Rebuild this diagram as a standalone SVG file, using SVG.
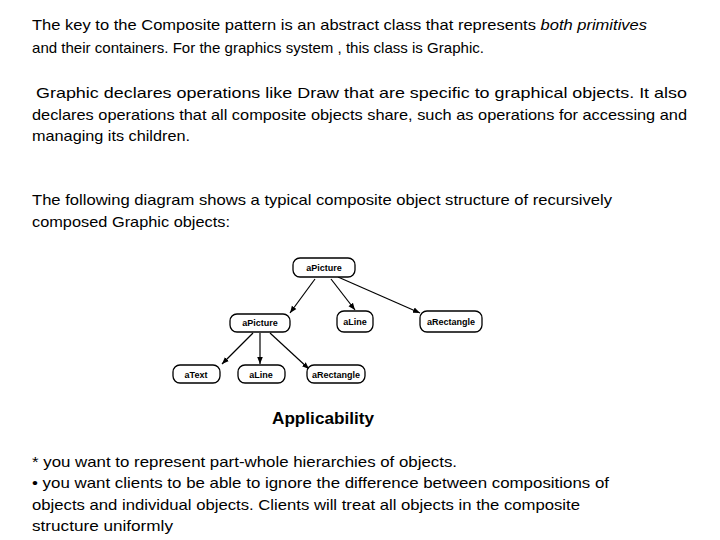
<svg xmlns="http://www.w3.org/2000/svg" width="720" height="540" viewBox="0 0 720 540">
<style>
.t{font-family:"Liberation Sans",Arial,sans-serif;font-size:15px;fill:#000}
.n rect{fill:#fff;stroke:#000;stroke-width:1.3}
.n text{font-family:"Liberation Sans",Arial,sans-serif;font-size:9px;font-weight:bold;text-anchor:middle;fill:#000}
.c line{stroke:#000;stroke-width:1.2;marker-end:url(#a)}
</style>
<defs><marker id="a" viewBox="0 0 10 10" refX="10" refY="5" markerWidth="7" markerHeight="7" orient="auto" markerUnits="userSpaceOnUse"><path d="M0,1 L10,5 L0,9 z" fill="#000"/></marker></defs>
<rect width="720" height="540" fill="#fff"/>
<text class="t" x="32" y="30" textLength="615" lengthAdjust="spacingAndGlyphs">The key to the Composite pattern is an abstract class that represents <tspan font-style="italic">both primitives</tspan></text>
<text class="t" x="32" y="53" textLength="452" lengthAdjust="spacingAndGlyphs">and their containers. For the graphics system , this class is Graphic.</text>
<text class="t" x="36" y="98" textLength="651" lengthAdjust="spacingAndGlyphs">Graphic declares operations like Draw that are specific to graphical objects. It also</text>
<text class="t" x="32" y="120" textLength="655" lengthAdjust="spacingAndGlyphs">declares operations that all composite objects share, such as operations for accessing and</text>
<text class="t" x="32" y="141" textLength="158" lengthAdjust="spacingAndGlyphs">managing its children.</text>
<text class="t" x="32" y="205" textLength="580" lengthAdjust="spacingAndGlyphs">The following diagram shows a typical composite object structure of recursively</text>
<text class="t" x="32" y="227" textLength="198" lengthAdjust="spacingAndGlyphs">composed Graphic objects:</text>
<g class="c">
<line x1="315" y1="279" x2="290" y2="313"/>
<line x1="331" y1="279" x2="355" y2="310"/>
<line x1="338" y1="277" x2="420" y2="313"/>
<line x1="253" y1="333" x2="222" y2="364"/>
<line x1="260" y1="333" x2="260" y2="364"/>
<line x1="270" y1="333" x2="309" y2="369"/>
</g>
<g id="n1" class="n"><rect x="293" y="258" width="62" height="19" rx="7"/><text x="324" y="271">aPicture</text></g>
<g id="n2" class="n"><rect x="230" y="314" width="60" height="18" rx="7"/><text x="260" y="326">aPicture</text></g>
<g id="n3" class="n"><rect x="337" y="311" width="36" height="21" rx="7"/><text x="355" y="325">aLine</text></g>
<g id="n4" class="n"><rect x="420" y="311" width="62" height="21" rx="7"/><text x="451" y="325">aRectangle</text></g>
<g id="n5" class="n"><rect x="173" y="365" width="47" height="18" rx="7"/><text x="196" y="378">aText</text></g>
<g id="n6" class="n"><rect x="238" y="365" width="47" height="18" rx="7"/><text x="261" y="378">aLine</text></g>
<g id="n7" class="n"><rect x="307" y="365" width="58" height="18" rx="7"/><text x="336" y="378">aRectangle</text></g>
<text x="272" y="424" font-family="Liberation Sans,Arial,sans-serif" font-size="17" font-weight="bold" textLength="102" lengthAdjust="spacingAndGlyphs">Applicability</text>
<text class="t" x="32" y="467" textLength="425" lengthAdjust="spacingAndGlyphs">* you want to represent part-whole hierarchies of objects.</text>
<text class="t" x="32" y="488" textLength="577" lengthAdjust="spacingAndGlyphs">• you want clients to be able to ignore the difference between compositions of</text>
<text class="t" x="32" y="510" textLength="548" lengthAdjust="spacingAndGlyphs">objects and individual objects. Clients will treat all objects in the composite</text>
<text class="t" x="32" y="531" textLength="141" lengthAdjust="spacingAndGlyphs">structure uniformly</text>
</svg>
